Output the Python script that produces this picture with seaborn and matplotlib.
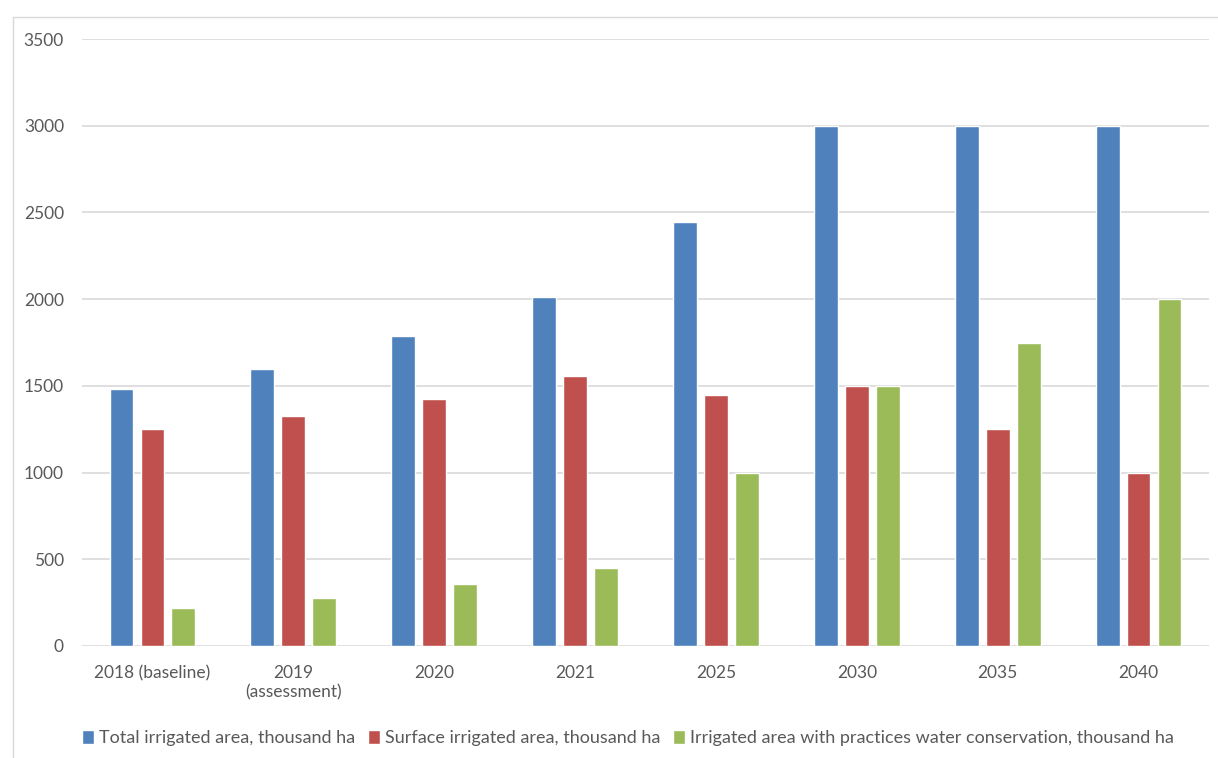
import pandas as pd
import seaborn as sns
import matplotlib.pyplot as plt
from matplotlib.lines import Line2D

years = ["2018 (baseline)", "2019\n(assessment)", "2020", "2021", "2025", "2030", "2035", "2040"]
series = ["Total irrigated area, thousand ha",
          "Surface irrigated area, thousand ha",
          "Irrigated area with practices water conservation, thousand ha"]
total = [1480, 1600, 1785, 2010, 2445, 3000, 3000, 3000]
surface = [1250, 1325, 1425, 1555, 1445, 1500, 1250, 1000]
conservation = [220, 275, 360, 450, 1000, 1500, 1750, 2000]
colors = ["#4F81BD", "#C0504D", "#9BBB59"]

df = pd.DataFrame({"year": years * 3,
                   "series": [series[0]] * 8 + [series[1]] * 8 + [series[2]] * 8,
                   "value": total + surface + conservation})

sns.set_style("white")
plt.rcParams["font.family"] = ["Lato", "DejaVu Sans"]
txt = "#595959"
W, H = 1218, 758

fig = plt.figure(figsize=(W / 100, H / 100), dpi=100)
ax = fig.add_axes([82 / W, 1 - 646 / H, (1209 - 82) / W, (646 - 39) / H])

sns.barplot(data=df, x="year", y="value", hue="series", palette=colors,
            width=0.66, gap=0.23, ax=ax, errorbar=None, saturation=1)

ax.set_ylim(0, 3500)
ax.set_yticks(range(0, 3501, 500))
ax.set_xlim(-0.5, 7.5)
ax.grid(axis="y", color="#d9d9d9", linewidth=1.2)
ax.set_axisbelow(True)
for s in ax.spines.values():
    s.set_visible(False)
ax.set_xlabel("")
ax.set_ylabel("")
ax.tick_params(axis="both", length=0, labelsize=12.5, colors=txt)
ax.tick_params(axis="y", pad=13)
ax.tick_params(axis="x", pad=14)

ax.legend(loc="center left", bbox_to_anchor=(0.0, (646 - 738) / 607), ncol=3, frameon=False,
          fontsize=13, labelcolor=txt, handlelength=0.65, handleheight=0.85,
          handletextpad=0.3, columnspacing=0.7, borderaxespad=0, borderpad=0)

# chart-area outline (left and top edges visible in the crop)
fig.add_artist(Line2D([12.5 / W, 12.5 / W], [0, 1 - 17 / H], transform=fig.transFigure,
                      color="#d9d9d9", linewidth=1))
fig.add_artist(Line2D([12.5 / W, 1], [1 - 17 / H, 1 - 17 / H], transform=fig.transFigure,
                      color="#d9d9d9", linewidth=1))

fig.savefig("out.png", dpi=100)
